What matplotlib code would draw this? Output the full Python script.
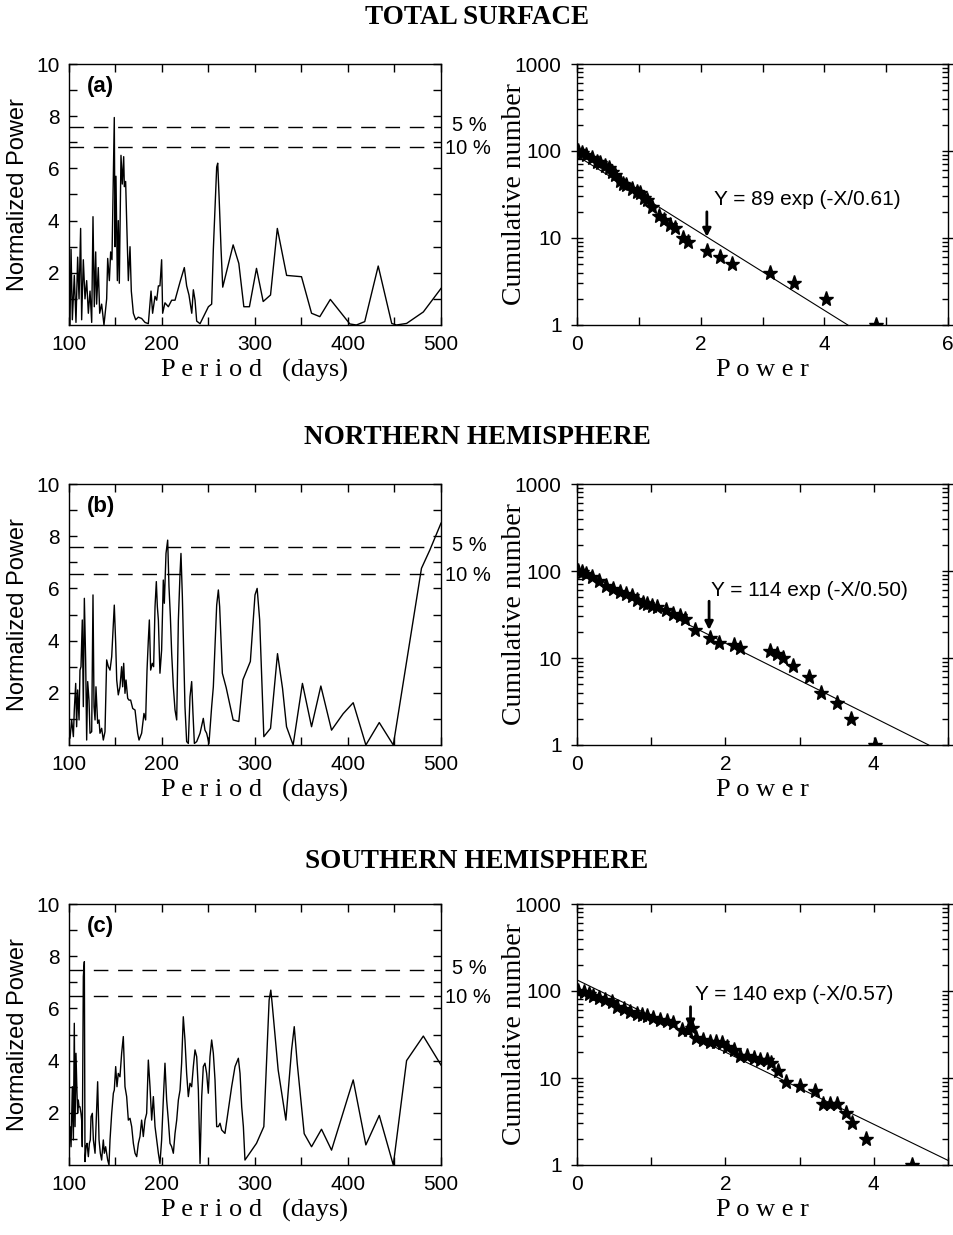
import numpy as np
import matplotlib
matplotlib.use('Agg')
import matplotlib.pyplot as plt
from matplotlib.ticker import FixedLocator, NullFormatter, FixedFormatter
import matplotlib.transforms as mtransforms

# ---------------- periodograms (left column): (period in days, normalized power) ----------------
curve_a = [(100, 1.9), (101, 0.0), (102.2, 2.9), (103.6, 0.2), (105.7, 1.9), (107.5, 0.1),
           (109.3, 2.6), (110.8, 1.0), (112.5, 3.7), (113.6, 0.2), (115.4, 2.5), (117.2, 1.0),
           (119.0, 1.7), (120.8, 0.45), (122.6, 1.3), (124.4, 0.1), (125.8, 4.15), (127.2, 0.7),
           (128.7, 2.8), (129.7, 0.8), (131.5, 2.2), (133.0, 0.45), (135.1, 0.8), (137.6, 0.0),
           (140.5, 1.0), (141.6, 2.55), (143.4, 1.7), (144.8, 2.8), (146.2, 2.5), (148.7, 7.95),
           (149.5, 3.0), (150.5, 5.7), (152.0, 1.7), (153.0, 4.0), (154.1, 1.6), (155.9, 6.5),
           (157.3, 5.4), (158.8, 6.45), (159.5, 5.3), (160.9, 5.5), (162.0, 4.0), (163.8, 1.7),
           (165.6, 3.0), (167.0, 1.3), (169.2, 0.45), (171.7, 0.2), (174.5, 0.3), (178.1, 0.25),
           (181.7, 0.1), (185.3, 0.05), (188.2, 1.3), (189.9, 0.45), (192.5, 1.1), (194.3, 0.95),
           (196.1, 1.5), (197.8, 1.5), (199.6, 2.5), (200.7, 0.45), (203.2, 0.85), (206.8, 0.7),
           (210.4, 0.95), (214.0, 0.95), (219.4, 1.65), (224.0, 2.2), (226.5, 1.5), (229.0, 1.15),
           (232.0, 0.45), (233.7, 1.35), (235.5, 0.95), (237.3, 0.15), (240.9, 0.05), (249.9, 0.7),
           (253.4, 0.8), (255.2, 2.9), (258.8, 6.05), (259.9, 6.2), (261.4, 4.9), (263.5, 2.9),
           (265.3, 1.45), (276.5, 3.07), (282.6, 2.36), (288, 0.7), (294, 0.7), (301.6, 2.17),
           (308.8, 0.9), (316.7, 1.15), (324, 3.7), (334, 1.9), (350, 1.85), (360.8, 0.45),
           (369.7, 0.32), (381, 0.98), (402, 0.04), (409, 0.0), (418, 0.13), (432.5, 2.26),
           (447, 0.06), (452, 0.0), (463, 0.06), (481, 0.5), (500, 1.4)]

curve_b = [(100.0, 0.70), (101.1, 0.26), (102.9, 0.96), (104.7, 0.32), (105.7, 1.34), (107.2, 2.36),
           (108.2, 0.70), (109.3, 2.11), (110.8, 0.96), (111.8, 2.87), (112.9, 3.0), (114.3, 4.79),
           (115.4, 1.47), (116.5, 5.62), (117.9, 3.26), (119.0, 0.19), (120.1, 2.43), (121.5, 1.72),
           (122.6, 0.45), (124.4, 0.51), (125.8, 5.75), (126.9, 1.47), (128.0, 0.96), (129.0, 2.23),
           (130.8, 0.83), (132.3, 0.96), (133.3, 0.45), (135.1, 0.64), (136.9, 0.19), (138.7, 0.51),
           (140.5, 3.26), (142.3, 3.0), (144.1, 2.87), (145.9, 3.38), (147.7, 4.66), (148.7, 5.36),
           (150.2, 3.9), (151.3, 2.49), (153.0, 1.92), (154.8, 2.23), (156.6, 3.0), (157.7, 2.23),
           (158.8, 3.13), (160.2, 1.98), (161.3, 2.49), (163.1, 1.79), (164.5, 1.72), (166.3, 1.72),
           (168.5, 1.40), (171.0, 1.34), (173.8, 0.45), (175.3, 0.19), (178.1, 0.45), (180.6, 1.21),
           (182.4, 0.96), (183.9, 2.87), (185.3, 4.02), (186.4, 4.79), (187.8, 2.87), (189.6, 3.13),
           (191.0, 3.0), (192.5, 5.3), (193.9, 6.26), (195.0, 5.3), (196.1, 4.79), (197.8, 2.75),
           (199.6, 3.64), (201.4, 6.32), (202.5, 5.43), (204.3, 7.34), (206.1, 7.85), (207.5, 6.07),
           (209.0, 4.92), (210.4, 3.51), (212.2, 2.23), (214.0, 1.34), (215.8, 0.96), (217.6, 4.79),
           (219.4, 6.58), (220.4, 7.34), (221.9, 5.68), (223.3, 3.51), (224.7, 1.47), (226.5, 0.13),
           (228.3, 0.06), (230.1, 1.85), (231.9, 2.43), (233.3, 1.21), (234.8, 0.06), (237.3, 0.13),
           (240.9, 0.45), (244.4, 1.02), (246.2, 0.57), (248.0, 0.45), (250.5, 0.06), (253.4, 1.47),
           (255.2, 2.23), (257.0, 3.77), (258.8, 5.36), (260.6, 5.94), (262.0, 5.3), (263.4, 4.02),
           (264.9, 2.75), (269, 2.2), (276.5, 0.96), (282.6, 0.9), (287, 2.5), (295, 3.2),
           (300, 5.75), (302.3, 6.0), (305, 4.8), (309.5, 0.32), (316.7, 0.64), (324.2, 3.5),
           (329.6, 2.17), (333.9, 0.7), (341, 0.0), (351, 2.36), (360.8, 0.7), (370.8, 2.26),
           (382.3, 0.57), (394.8, 1.2), (405.6, 1.62), (419.2, 0.0), (433.6, 0.86), (448.7, 0.0),
           (479, 6.77), (488, 7.47), (500, 8.5)]

curve_c = [(100.0, 0.96), (101.1, 1.47), (102.2, 0.70), (103.6, 3.0), (104.7, 0.96), (105.7, 5.43),
           (106.5, 1.47), (107.5, 4.28), (108.6, 2.75), (109.3, 1.98), (110.0, 2.49), (110.8, 2.23),
           (111.8, 2.23), (112.9, 1.98), (113.6, 1.72), (114.3, 0.70), (115.4, 7.22), (116.5, 7.79),
           (117.2, 0.13), (118.3, 0.70), (119.4, 0.83), (120.8, 0.32), (121.9, 0.83), (122.9, 0.96),
           (123.7, 1.85), (125.1, 1.98), (126.2, 0.96), (128.0, 0.45), (129.7, 2.11), (130.8, 3.19),
           (132.3, 0.96), (133.7, 0.45), (135.1, 0.19), (136.9, 0.96), (138.0, 0.45), (139.4, 0.70),
           (141.6, 0.19), (143.0, 0.0), (144.1, 0.96), (145.9, 1.98), (147.7, 2.75), (148.7, 2.87),
           (150.2, 3.77), (151.6, 3.0), (153.0, 3.51), (154.8, 3.38), (156.6, 4.28), (158.4, 4.92),
           (160.2, 3.0), (162.0, 2.62), (163.8, 1.72), (165.6, 1.79), (167.4, 1.47), (169.2, 0.83),
           (171.0, 0.45), (172.8, 0.32), (174.6, 0.83), (176.3, 1.09), (178.1, 1.72), (179.9, 1.09),
           (181.7, 1.72), (183.5, 1.98), (185.3, 4.02), (187.1, 3.0), (188.9, 1.72), (190.7, 2.62),
           (192.5, 1.47), (194.3, 0.96), (196.1, 0.45), (197.8, 0.06), (199.6, 0.96), (201.4, 2.49),
           (203.2, 3.9), (205.0, 2.49), (206.8, 1.72), (208.6, 0.83), (210.4, 0.70), (212.2, 0.45),
           (214.0, 1.21), (215.8, 1.72), (217.6, 2.49), (219.4, 2.87), (221.1, 3.9), (222.9, 5.68),
           (224.7, 4.79), (226.5, 3.51), (228.3, 2.62), (230.1, 3.13), (231.9, 3.0), (233.7, 3.77),
           (235.5, 4.41), (237.3, 4.15), (239.1, 2.87), (240.9, 0.06), (242.7, 2.62), (244.4, 3.77),
           (246.2, 3.9), (248.0, 3.51), (249.8, 2.75), (251.6, 4.15), (253.4, 4.79), (255.2, 4.28),
           (257.0, 3.26), (258.8, 1.47), (260.6, 1.47), (262.4, 1.6), (264.2, 1.34), (267.7, 1.21),
           (271.3, 2.11), (274.9, 3.0), (278.5, 3.77), (282.1, 4.09), (283.9, 3.51), (285.7, 2.23),
           (287.5, 1.47), (289.2, 0.19), (301.6, 0.83), (309.5, 1.47), (315.2, 6.32), (317, 6.7),
           (318.4, 6.2), (324.9, 3.64), (333.2, 1.72), (339.3, 4.4), (342.2, 5.3), (345.4, 3.9),
           (352.9, 1.2), (360.8, 0.7), (371.5, 1.37), (382.3, 0.57), (405.6, 3.26), (419.2, 0.77),
           (433.6, 1.9), (448.7, 0.0), (463, 4.0), (481, 4.94), (500, 3.83)]

# 5 % and 10 % significance levels
sig_a = [7.6, 6.83]
sig_b = [7.6, 6.56]
sig_c = [7.48, 6.47]
sig_labels = ['5 %', '10 %']

# ---------------- cumulative distributions (right column) ----------------
cum_x_a = [0.01, 0.08, 0.15, 0.24, 0.32, 0.38, 0.45, 0.51, 0.57, 0.62, 0.70, 0.75, 0.80, 0.89, 0.97,
           1.02, 1.09, 1.13, 1.21, 1.32, 1.41, 1.51, 1.59, 1.71, 1.80, 2.11, 2.31, 2.51, 3.12, 3.51,
           4.03, 4.83]
cum_n_a = [100, 96, 90, 82, 75, 72, 68, 63, 58, 53, 45, 42, 41, 37, 34,
           33, 29, 27, 23, 18, 16, 14, 13, 10, 9, 7, 6, 5, 4, 3,
           2, 1]
fit_x_a = [0, 4.38]
fit_y_a = [88, 1]

cum_x_b = [0.01, 0.067, 0.126, 0.20, 0.29, 0.39, 0.49, 0.58, 0.66, 0.74, 0.81, 0.89, 0.94, 1.01, 1.08,
           1.20, 1.30, 1.39, 1.46, 1.59, 1.79, 1.91, 2.11, 2.20, 2.60, 2.69, 2.78, 2.91, 3.12, 3.29,
           3.51, 3.69, 4.01]
cum_n_b = [100, 98, 92, 85, 76, 68, 62, 58, 55, 51, 47, 43, 42, 40, 39,
           36, 32, 30, 28, 21, 17, 15, 14, 13, 12, 11, 10, 8, 6, 4,
           3, 2, 1]
fit_x_b = [0, 4.74]
fit_y_b = [106, 1]

cum_x_c = [0.01, 0.09, 0.16, 0.22, 0.30, 0.38, 0.47, 0.54, 0.63, 0.72, 0.81, 0.87, 0.94, 1.03, 1.12,
           1.21, 1.30, 1.41, 1.50, 1.55, 1.61, 1.70, 1.79, 1.88, 1.95, 2.02, 2.11, 2.20, 2.29, 2.38,
           2.47, 2.56, 2.62, 2.71, 2.82, 3.00, 3.21, 3.31, 3.41, 3.51, 3.62, 3.71, 3.90, 4.52]
cum_n_c = [100, 97, 93, 88, 83, 78, 74, 66, 62, 58, 55, 53, 51, 49, 46,
           45, 43, 36, 36, 38, 29, 27, 26, 26, 25, 23, 21, 18, 18, 17,
           16, 16, 15, 12, 9, 8, 7, 5, 5, 5, 4, 3, 2, 1]
fit_x_c = [0, 5]
fit_y_c = [134, 1.13]

# arrow (x, from, to), equation text and its anchor
arrow_a = (2.1, 20, 10.3)
arrow_b = (1.78, 45, 21)
arrow_c = (1.53, 66, 37)
eq_a = ('Y = 89 exp (-X/0.61)', 2.21, 27.5)
eq_b = ('Y = 114 exp (-X/0.50)', 1.80, 60)
eq_c = ('Y = 140 exp (-X/0.57)', 1.59, 90)

row_titles = ['TOTAL SURFACE', 'NORTHERN HEMISPHERE', 'SOUTHERN HEMISPHERE']
panel_tags = ['(a)', '(b)', '(c)']

SANS = ['Liberation Sans', 'DejaVu Sans']
SERIF = ['Liberation Serif', 'DejaVu Serif']

W, H = 954, 1235
fig = plt.figure(figsize=(W / 100, H / 100), dpi=100)

rows_top = [64, 484, 904]
ax_h = 261


def fr(x0, y_top, w):
    return [x0 / W, 1 - (y_top + ax_h) / H, w / W, ax_h / H]


def style_ticks(ax):
    ax.tick_params(which='both', direction='in', top=True, right=True, width=1, labelsize=15,
                   pad=7)
    ax.tick_params(which='major', length=6)
    ax.tick_params(which='minor', length=6)
    for s in ax.spines.values():
        s.set_linewidth(1.0)
    for lab in ax.get_xticklabels() + ax.get_yticklabels():
        lab.set_family(SANS)


def left_panel(ax, curve, sig, tag):
    per = [p for p, v in curve]
    pw = [v for p, v in curve]
    ax.plot(per, pw, color='k', lw=1.0)
    for lev in sig:
        ax.axhline(lev, color='k', lw=1.0, dashes=(10.5, 7))
    tr = mtransforms.blended_transform_factory(ax.transAxes, ax.transData)
    ax.text(1.03, sig[0] + 0.05, sig_labels[0], transform=tr, ha='left', va='center',
            fontsize=14.5, family=SANS)
    ax.text(1.011, sig[1] - 0.05, sig_labels[1], transform=tr, ha='left', va='center',
            fontsize=14.5, family=SANS)
    ax.set_xlim(100, 500)
    ax.set_ylim(0, 10)
    ax.xaxis.set_major_locator(FixedLocator([100, 200, 300, 400, 500]))
    ax.xaxis.set_minor_locator(FixedLocator([150, 250, 350, 450]))
    ax.yaxis.set_major_locator(FixedLocator([2, 4, 6, 8, 10]))
    ax.yaxis.set_minor_locator(FixedLocator([1, 3, 5, 7, 9]))
    ax.text(0.048, 0.915, tag, transform=ax.transAxes, fontsize=16, fontweight='bold',
            family=SANS, va='center', ha='left')
    ax.set_xlabel('P e r i o d   (days)', family=SERIF, fontsize=19, labelpad=4)
    ax.set_ylabel('Normalized Power', family=SANS, fontsize=17)
    ax.yaxis.set_label_coords(-0.108, 0.5)
    style_ticks(ax)


def right_panel(ax, cx, cn, fx, fy, arrow, eq, xmax):
    ax.plot(fx, fy, color='k', lw=0.8)
    ax.plot(cx, cn, linestyle='none', marker='*', ms=11, color='k', mec='k')
    ax.annotate('', xy=(arrow[0], arrow[2]), xytext=(arrow[0], arrow[1]),
                arrowprops=dict(arrowstyle='-|>', color='k', lw=2.0, mutation_scale=12,
                                shrinkA=0, shrinkB=0))
    ax.text(eq[1], eq[2], eq[0], fontsize=15, family=SANS, ha='left', va='center')
    ax.set_yscale('log')
    ax.set_ylim(1, 1000)
    ax.set_xlim(0, xmax)
    if xmax == 6:
        ax.xaxis.set_major_locator(FixedLocator([0, 2, 4, 6]))
    else:
        ax.xaxis.set_major_locator(FixedLocator([0, 2, 4]))
    ax.xaxis.set_minor_locator(FixedLocator([1, 3, 5]))
    ax.yaxis.set_major_locator(FixedLocator([1, 10, 100, 1000]))
    ax.yaxis.set_major_formatter(FixedFormatter(['1', '10', '100', '1000']))
    minors = [m * d for d in (1, 10, 100) for m in range(2, 10)]
    ax.yaxis.set_minor_locator(FixedLocator(minors))
    ax.yaxis.set_minor_formatter(NullFormatter())
    ax.set_xlabel('P o w e r', family=SERIF, fontsize=19, labelpad=4)
    ax.set_ylabel('Cumulative number', family=SERIF, fontsize=20)
    ax.yaxis.set_label_coords(-0.135, 0.5)
    style_ticks(ax)
    ax.tick_params(axis='y', which='minor', length=4)
    ax.tick_params(axis='y', which='major', length=8, direction='inout')


lefts = [(curve_a, sig_a), (curve_b, sig_b), (curve_c, sig_c)]
rights = [(cum_x_a, cum_n_a, fit_x_a, fit_y_a, arrow_a, eq_a, 6),
          (cum_x_b, cum_n_b, fit_x_b, fit_y_b, arrow_b, eq_b, 5),
          (cum_x_c, cum_n_c, fit_x_c, fit_y_c, arrow_c, eq_c, 5)]
title_y = [17, 437, 861]

for i in range(3):
    axl = fig.add_axes(fr(69, rows_top[i], 372))
    left_panel(axl, *lefts[i], panel_tags[i])
    axr = fig.add_axes(fr(577, rows_top[i], 371))
    right_panel(axr, *rights[i])
    fig.text(0.5, 1 - title_y[i] / H, row_titles[i], ha='center', va='center',
             family=SERIF, fontweight='bold', fontsize=19.5)

fig.savefig('out.png', dpi=100)
